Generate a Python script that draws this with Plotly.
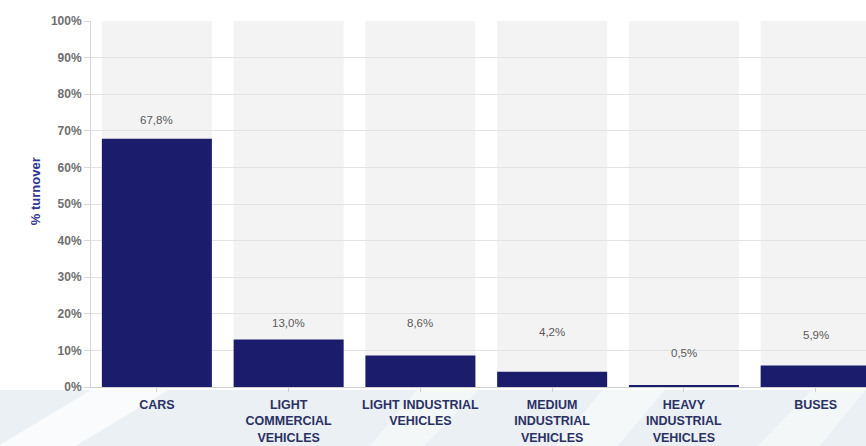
import plotly.graph_objects as go

categories = ["CARS", "LIGHT<br>COMMERCIAL<br>VEHICLES", "LIGHT INDUSTRIAL<br>VEHICLES",
              "MEDIUM<br>INDUSTRIAL<br>VEHICLES", "HEAVY<br>INDUSTRIAL<br>VEHICLES", "BUSES"]
turnover = [67.8, 13.0, 8.6, 4.2, 0.5, 5.9]
value_labels = ["67,8%", "13,0%", "8,6%", "4,2%", "0,5%", "5,9%"]
y_ticks = [0, 10, 20, 30, 40, 50, 60, 70, 80, 90, 100]
y_tick_labels = ["0%", "10%", "20%", "30%", "40%", "50%", "60%", "70%", "80%", "90%", "100%"]

# pixel offsets of value labels above the bar tops (as placed in the original)
label_shift = [19, 16, 33, 40, 32, 30]

W, H = 866, 446
ML, MR, MT, MB = 91, 0, 21, 59
plot_h = H - MT - MB

fig = go.Figure()
fig.add_trace(go.Bar(
    x=list(range(len(categories))), y=turnover,
    marker=dict(color="#1c1c6c", line=dict(width=0)),
    hoverinfo="skip", showlegend=False,
))

shapes = []
# faint photographic background band under the chart
shapes.append(dict(type="rect", xref="paper", yref="paper",
                   x0=-ML / (W - ML), x1=1, y0=-MB / plot_h, y1=-3 / plot_h,
                   fillcolor="#eaf0f3", line=dict(width=0), layer="below"))
for (xa, xb, xc, xd, op) in [(-0.12, -0.02, 0.10, 0.0, 0.7), (0.36, 0.43, 0.50, 0.42, 0.45),
                             (0.60, 0.68, 0.74, 0.66, 0.5), (0.86, 0.94, 1.0, 0.93, 0.45)]:
    shapes.append(dict(type="path", xref="paper", yref="paper",
                       path=f"M {xa},{-MB/plot_h} L {xb},{-MB/plot_h} L {xc},{-3/plot_h} L {xd},{-3/plot_h} Z",
                       fillcolor="white", opacity=op, line=dict(width=0), layer="below"))
# light grey column bands behind each category
for i in range(len(categories)):
    shapes.append(dict(type="rect", xref="x", yref="y", x0=i - 0.4175, x1=i + 0.4175,
                       y0=0, y1=100, fillcolor="#f3f3f3", line=dict(width=0), layer="below"))

annotations = []
for i, (v, t) in enumerate(zip(turnover, value_labels)):
    annotations.append(dict(x=i, y=v, text=t, showarrow=False, yanchor="middle",
                            yshift=label_shift[i],
                            font=dict(family="Liberation Sans, Arial", size=11.5, color="#5a5a5a")))
annotations.append(dict(x=-56 / (W - ML), y=0.535, xref="paper", yref="paper",
                        xanchor="center", yanchor="middle",
                        text="% turnover", textangle=-90, showarrow=False,
                        font=dict(family="Liberation Sans, Arial", size=13, color="#2f3590",
                                  weight="bold")))

fig.update_layout(
    width=W, height=H,
    margin=dict(l=ML, r=MR, t=MT, b=MB, pad=0),
    paper_bgcolor="white", plot_bgcolor="rgba(0,0,0,0)",
    bargap=0.165,
    shapes=shapes, annotations=annotations,
    xaxis=dict(
        range=[-0.5, 5.382], tickmode="array", tickvals=list(range(len(categories))),
        ticktext=categories, showgrid=False, zeroline=False,
        showline=True, linecolor="#cfcfcf", linewidth=1,
        ticks="outside", tickson="boundaries", ticklen=4, tickcolor="#cfcfcf",
        ticklabelstandoff=2,
        tickfont=dict(family="Liberation Sans, Arial", size=12.5, color="#2b3064", weight="bold"),
        fixedrange=True,
    ),
    yaxis=dict(
        range=[0, 100], tickmode="array", tickvals=y_ticks, ticktext=y_tick_labels,
        showgrid=True, gridcolor="#e2e2e2", gridwidth=1, zeroline=False,
        showline=True, linecolor="#d6d6d6", linewidth=1,
        ticks="outside", ticklen=6, tickcolor="#d6d6d6",
        tickfont=dict(family="Liberation Sans, Arial", size=12, color="#6e6e6e", weight="bold"),
        fixedrange=True,
    ),
    showlegend=False,
)

fig.write_html("out.html", config={"displayModeBar": False},
               post_script="document.body.style.margin='0';document.body.style.overflow='hidden';")
